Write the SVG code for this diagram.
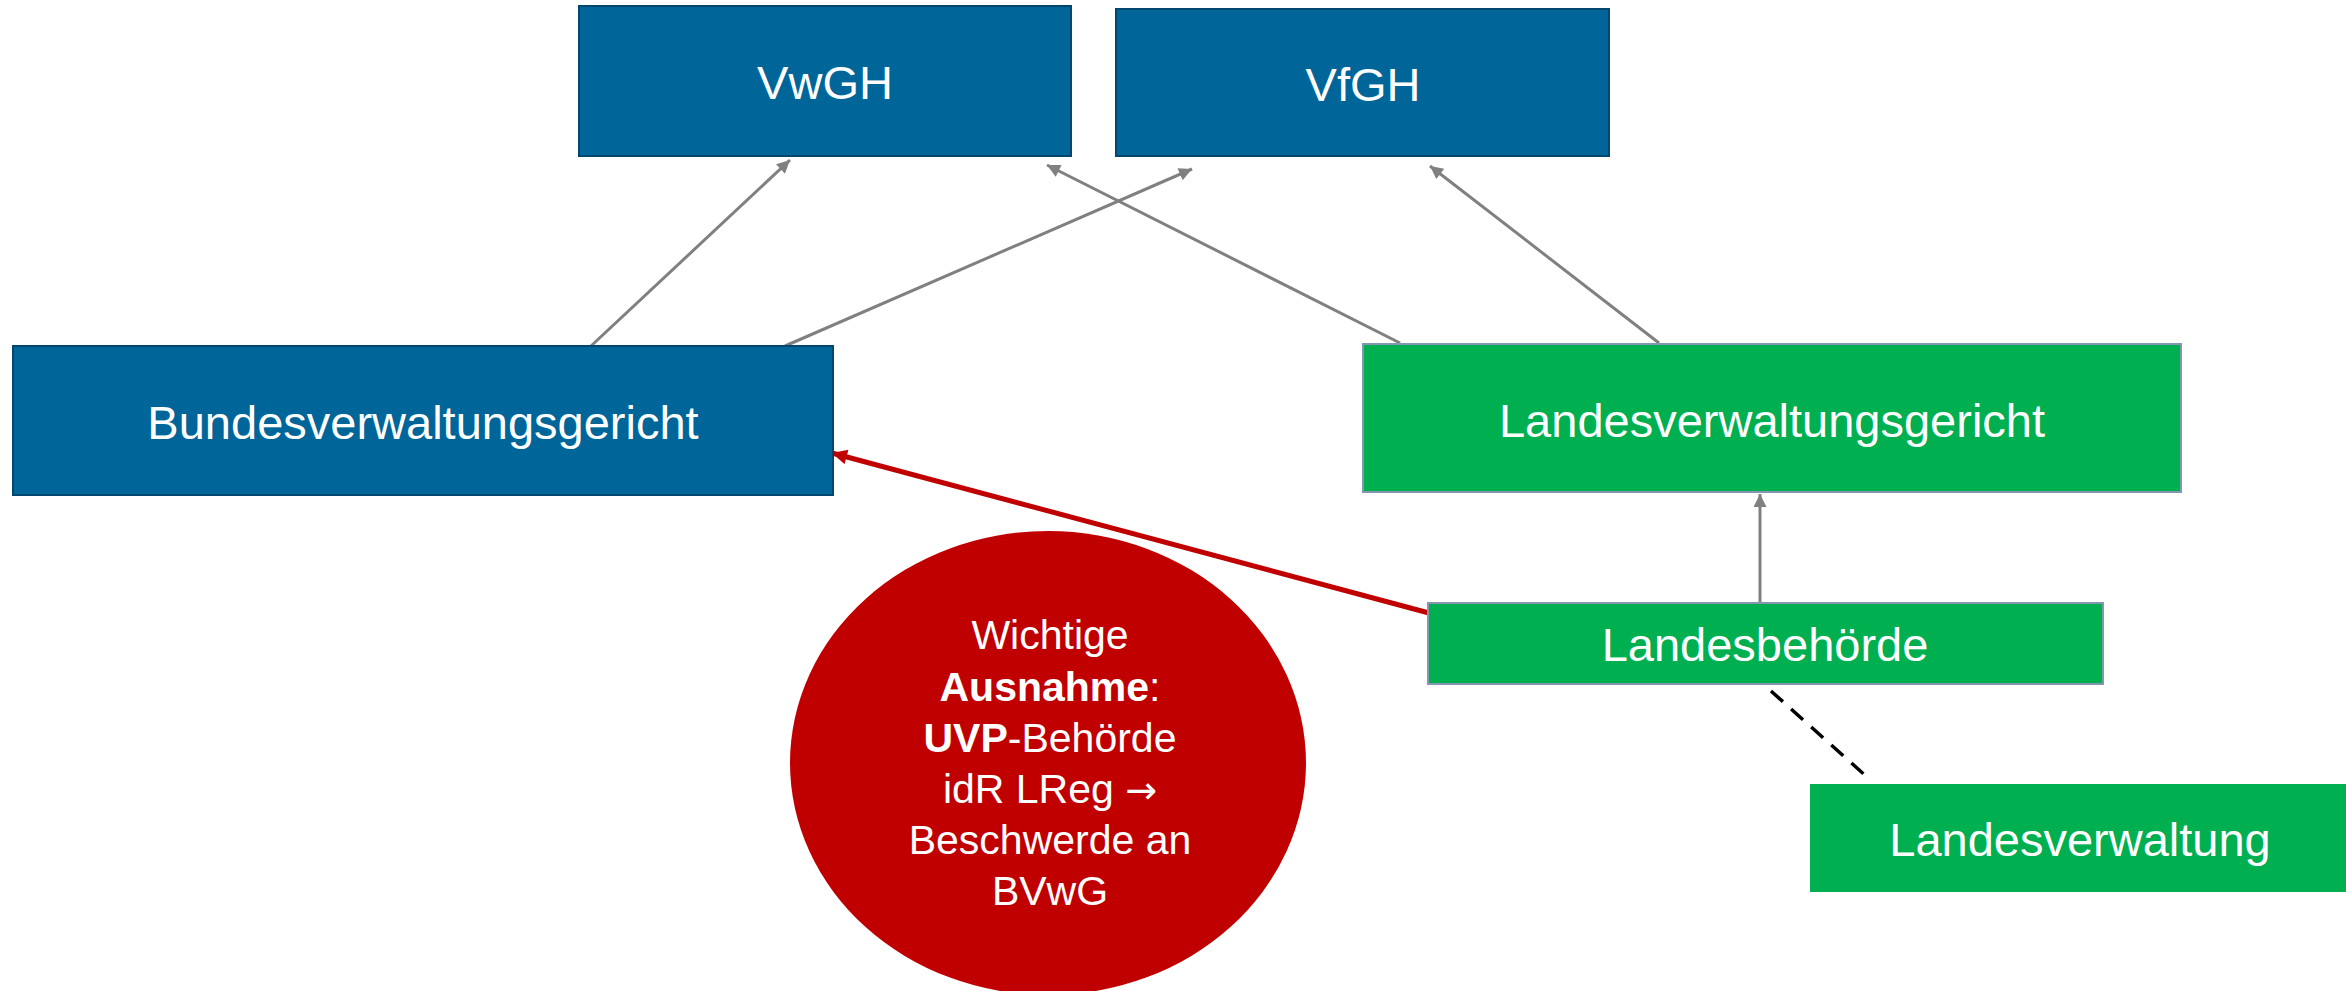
<svg xmlns="http://www.w3.org/2000/svg" width="2346" height="991" viewBox="0 0 2346 991">
<defs>
<style>
.blue{fill:#006599;stroke:#00466E;stroke-width:2}
.green{fill:#00B050;stroke:#8497B0;stroke-width:2}
.lbl{font-family:"Liberation Sans",Arial,sans-serif;font-size:47px;fill:#FFFFFF;text-anchor:middle}
.small{font-family:"Liberation Sans",Arial,sans-serif;font-size:41px;fill:#FFFFFF;text-anchor:middle}
.gray{stroke:#808080;stroke-width:3;fill:none;marker-end:url(#ag)}
</style>
<marker id="ag" viewBox="0 0 10 10" refX="10" refY="5" markerWidth="17" markerHeight="13" markerUnits="userSpaceOnUse" orient="auto">
<path d="M0,0 L10,5 L0,10 Z" fill="#808080"/>
</marker>
<marker id="ar" viewBox="0 0 10 10" refX="10" refY="5" markerWidth="18" markerHeight="15" markerUnits="userSpaceOnUse" orient="auto">
<path d="M0,0 L10,5 L0,10 Z" fill="#C00000"/>
</marker>
</defs>
<rect width="2346" height="991" fill="#FFFFFF"/>
<g id="connectors">
<line class="gray" x1="591" y1="346" x2="790" y2="160"/>
<line class="gray" x1="785" y1="346" x2="1192" y2="169"/>
<line class="gray" x1="1400" y1="343" x2="1047" y2="165"/>
<line class="gray" x1="1659" y1="343" x2="1430" y2="166"/>
<line class="gray" x1="1760" y1="603" x2="1760" y2="494"/>
<line x1="1429" y1="613" x2="832" y2="453" stroke="#C00000" stroke-width="5" marker-end="url(#ar)"/>
<line x1="1771" y1="691" x2="1867" y2="777" stroke="#000000" stroke-width="3.5" stroke-dasharray="16,11"/>
</g>
<g id="vwgh">
<rect class="blue" x="579" y="6" width="492" height="150"/>
<text class="lbl" x="825" y="99">VwGH</text>
</g>
<g id="vfgh">
<rect class="blue" x="1116" y="9" width="493" height="147"/>
<text class="lbl" x="1363" y="101">VfGH</text>
</g>
<g id="bvwg">
<rect class="blue" x="13" y="346" width="820" height="149"/>
<text class="lbl" x="423" y="439">Bundesverwaltungsgericht</text>
</g>
<g id="lvwg">
<rect class="green" x="1363" y="344" width="818" height="148"/>
<text class="lbl" x="1772" y="437">Landesverwaltungsgericht</text>
</g>
<g id="landesbehoerde">
<rect class="green" x="1428" y="603" width="675" height="81"/>
<text class="lbl" x="1765" y="661">Landesbehörde</text>
</g>
<g id="landesverwaltung">
<rect x="1810" y="784" width="540" height="108" fill="#00B050"/>
<text class="lbl" x="2080" y="856">Landesverwaltung</text>
</g>
<g id="ausnahme">
<ellipse cx="1048" cy="763" rx="258" ry="232" fill="#C00000"/>
<text class="small" x="1050" y="649">Wichtige</text>
<text class="small" x="1050" y="701"><tspan font-weight="bold">Ausnahme</tspan>:</text>
<text class="small" x="1050" y="752"><tspan font-weight="bold">UVP</tspan>-Behörde</text>
<text class="small" x="1050" y="803">idR LReg <tspan font-family="'DejaVu Sans',sans-serif" font-size="38px">→</tspan></text>
<text class="small" x="1050" y="854">Beschwerde an</text>
<text class="small" x="1050" y="905">BVwG</text>
</g>
</svg>
